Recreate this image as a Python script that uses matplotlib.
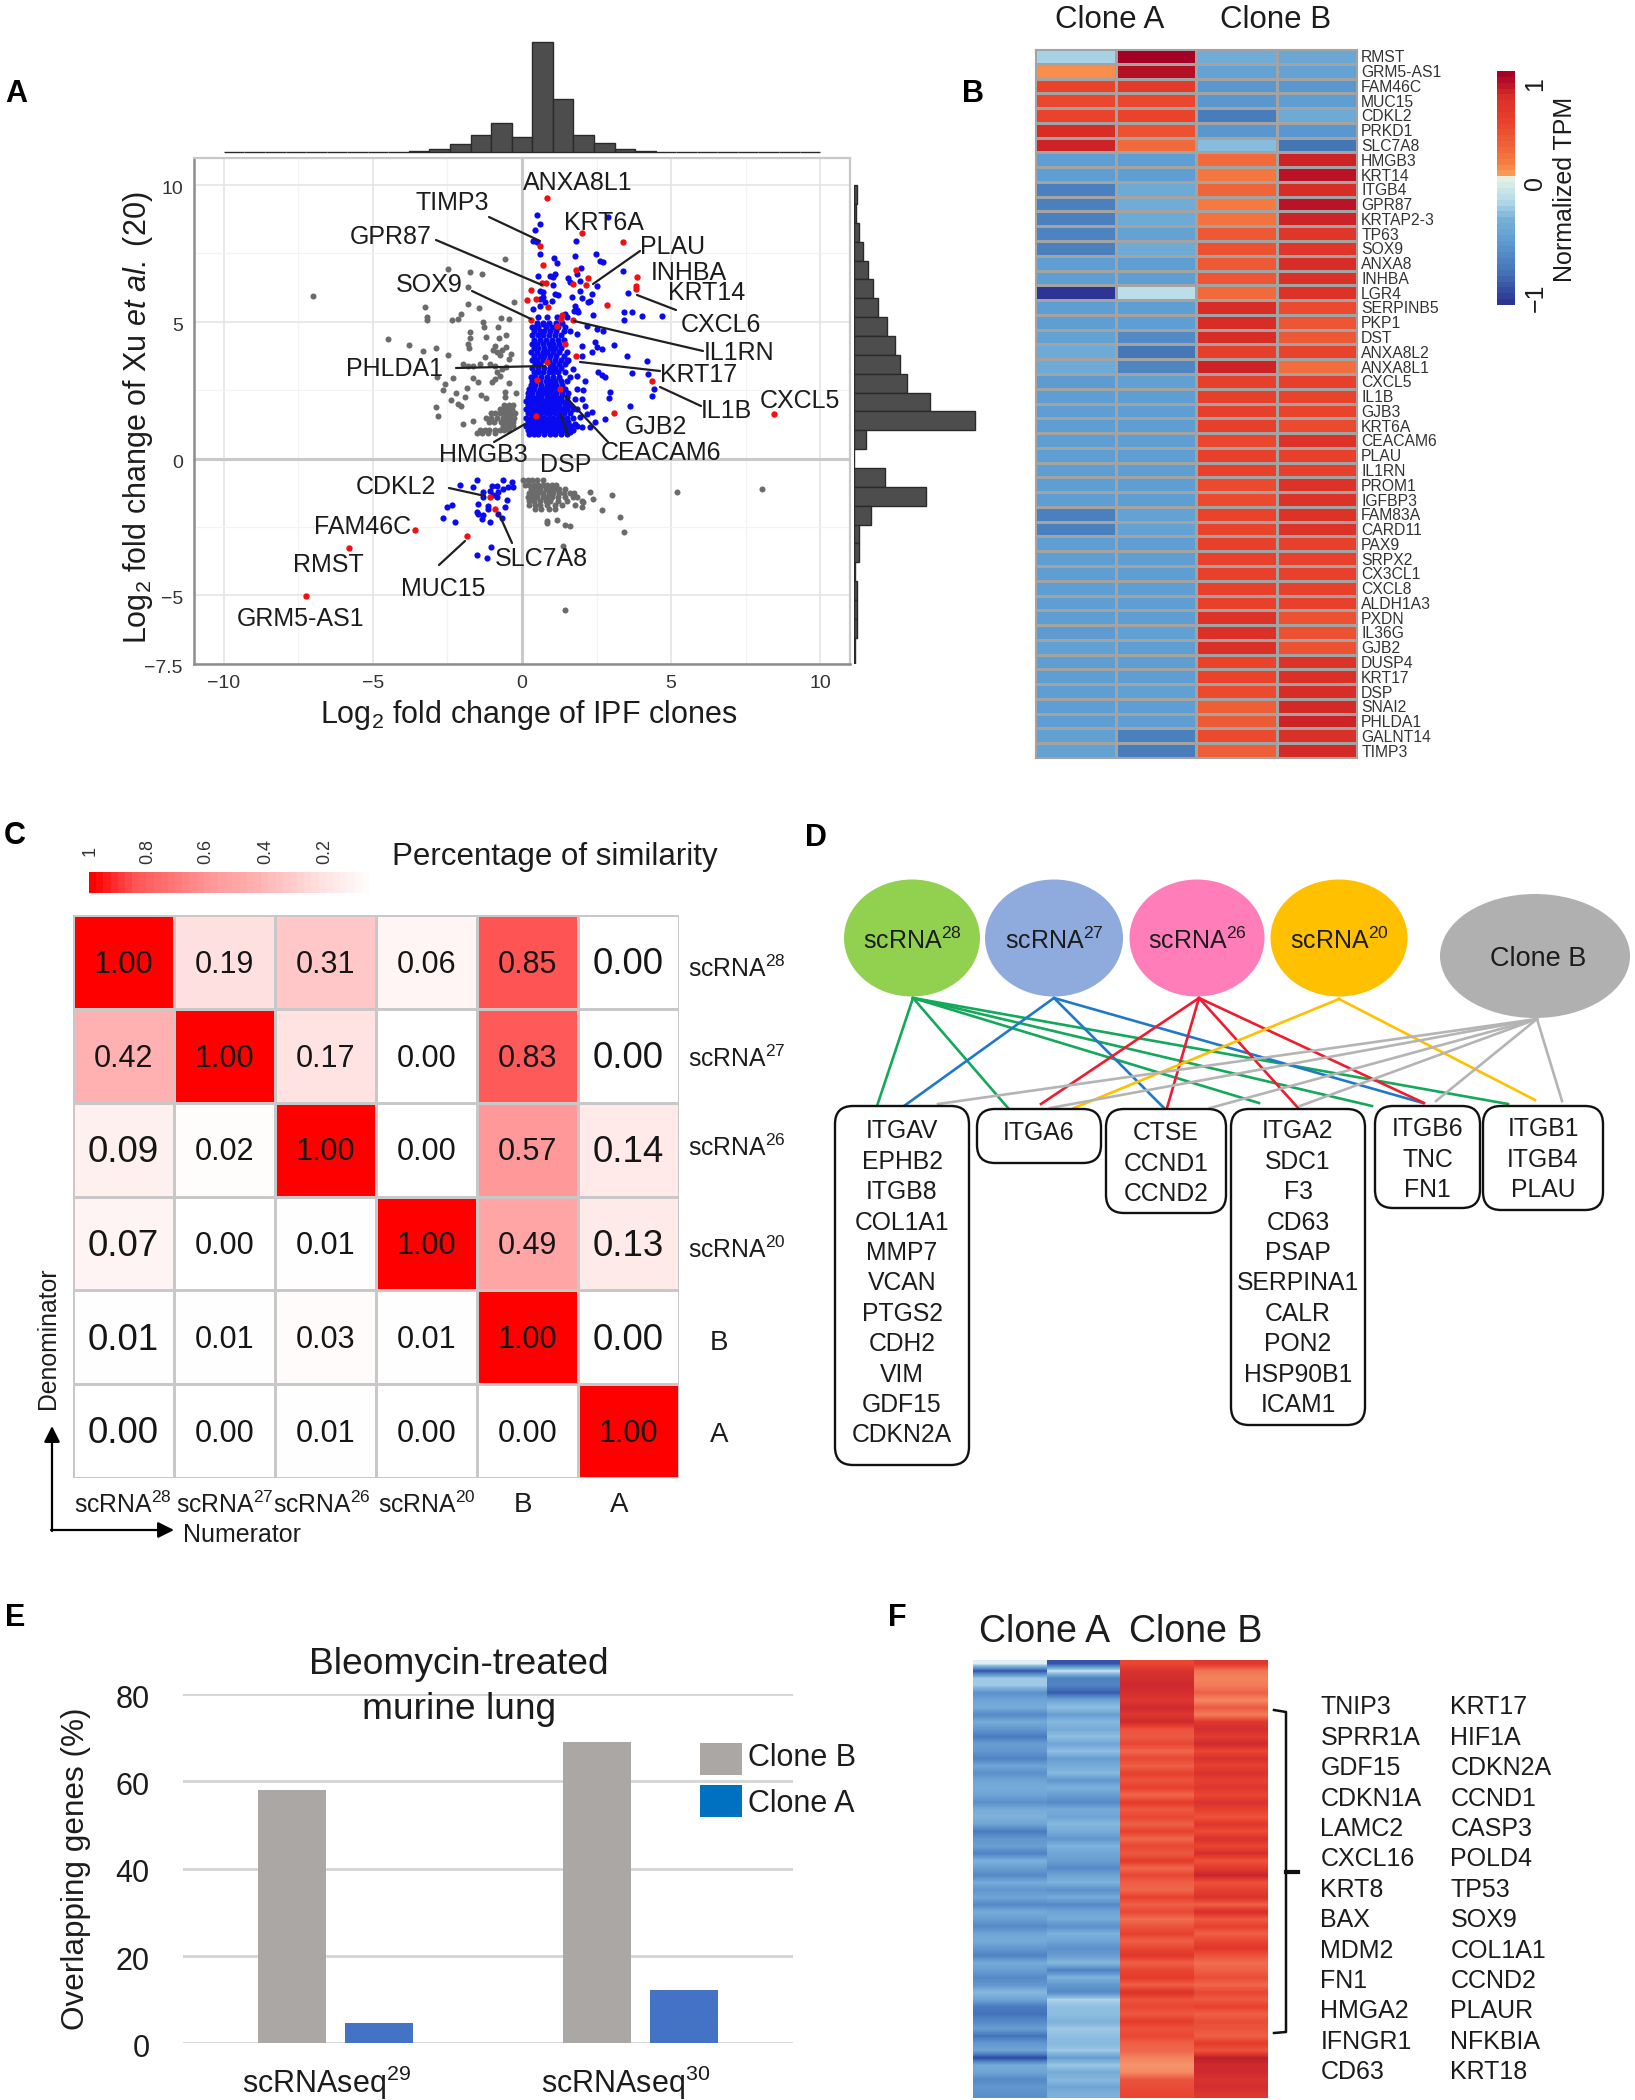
import numpy as np
import matplotlib
matplotlib.use("Agg")
import matplotlib.pyplot as plt
from matplotlib.colors import LinearSegmentedColormap
from matplotlib.patches import Ellipse, FancyBboxPatch, Rectangle
from matplotlib.transforms import ScaledTranslation

plt.rcParams['font.family'] = ['Liberation Sans', 'DejaVu Sans']
plt.rcParams['mathtext.fontset'] = 'custom'
plt.rcParams['mathtext.rm'] = 'Liberation Sans'
plt.rcParams['mathtext.it'] = 'Liberation Sans:italic'
plt.rcParams['mathtext.bf'] = 'Liberation Sans:bold'
plt.rcParams['mathtext.default'] = 'regular'

W, H = 1635, 2100
INK = '#1c1c1c'

# ---- panel A data
top_hist = [1, 1, 1, 1, 1, 1, 1, 1, 1, 3, 6, 17, 37, 63, 33, 239, 115, 38, 20, 7, 3, 1, 1, 1, 1, 1, 1, 1, 1]
right_hist = [9, 5, 16, 27, 43, 57, 71, 99, 122, 137, 158, 228, 363, 36, 0, 93, 215, 50, 15, 15, 3, 8, 8, 8, 3, 3]

red_pts = [(0.85, 9.53), (2.0, 8.25), (3.38, 7.92), (0.6, 7.78), (0.7, 7.07), (1.81, 6.91), (3.85, 6.62), (3.83, 6.3),
           (3.83, 6.2), (0.16, 5.81), (0.3, 6.17), (0.8, 6.41), (0.66, 6.41), (1.72, 6.38), (2.23, 6.6), (2.14, 6.36),
           (2.84, 5.6), (0.3, 5.08), (0.47, 5.84), (0.88, 5.53), (1.72, 5.07), (1.35, 5.26), (1.3, 5.1), (1.16, 4.84),
           (1.44, 4.19), (1.81, 3.74), (0.83, 3.52), (0.51, 2.87), (4.35, 2.83), (1.27, 2.55), (3.07, 1.67), (0.47, 1.54),
           (8.45, 1.63), (-1.07, -1.41), (-0.91, -1.85), (-1.86, -2.84), (-3.59, -2.61), (-5.8, -3.28), (-7.26, -5.04)]

blue_sparse = [(0.49, 8.92), (0.62, 8.58), (0.43, 8.36), (2.9, 8.82), (1.81, 7.94), (0.38, 7.94), (0.49, 7.9), (0.6, 7.48),
               (1.78, 7.42), (2.47, 7.48), (2.62, 7.24), (2.73, 7.18), (1.08, 7.33), (1.16, 7.14), (0.55, 6.69), (0.94, 6.69),
               (1.11, 6.75), (1.05, 6.63), (1.97, 6.96), (1.83, 6.75), (1.53, 6.59), (1.95, 6.5), (3.38, 6.87), (2.51, 6.3),
               (1.61, 6.44), (1.05, 6.35), (0.6, 6.14), (0.72, 6.08), (1.95, 6.14), (3.54, 6.04), (1.11, 6.02), (1.22, 5.99),
               (1.69, 5.92), (2.0, 5.87), (2.34, 6.02), (2.28, 5.77), (2.23, 5.71), (0.6, 5.84), (0.72, 5.9), (0.77, 5.71),
               (0.99, 5.77), (0.6, 5.59), (0.38, 5.47), (1.78, 5.56), (1.83, 5.43), (1.75, 5.41), (1.89, 5.35), (3.42, 5.35),
               (3.7, 5.35), (4.03, 5.2), (4.69, 5.23), (3.42, 5.07), (2.37, 5.25), (0.55, 5.17), (0.83, 5.17), (1.16, 5.17),
               (1.44, 5.29), (1.5, 5.17), (0.72, 4.92), (0.44, 4.8),
               (2.0, 4.13), (2.45, 4.25), (2.51, 4.07), (2.67, 4.0), (2.34, 3.89), (3.07, 4.15), (3.51, 3.76), (4.18, 3.55),
               (4.24, 3.09), (3.68, 3.12), (4.43, 2.55), (4.37, 2.3), (3.62, 1.91), (2.95, 2.45), (2.93, 2.2), (2.79, 1.45),
               (2.56, 3.16), (2.67, 3.07), (2.79, 2.97), (2.11, 2.85), (1.83, 3.03), (1.7, 3.28), (2.06, 2.49), (2.0, 2.18),
               (2.11, 1.94), (2.34, 1.69), (2.17, 1.63), (2.45, 1.33), (2.28, 1.14), (1.83, 2.55), (1.78, 2.18), (1.83, 1.81),
               (1.95, 1.51), (1.78, 1.27), (2.0, 1.14), (1.61, 0.96), (1.5, 3.58), (2.0, 3.76), (2.73, 4.68), (2.51, 4.74),
               (2.17, 4.86), (1.83, 4.56),
               (-2.08, -0.96), (-1.5, -0.78), (-1.66, -1.05), (-1.3, -1.23), (-1.02, -0.99), (-0.85, -0.99), (-1.07, -1.17),
               (-0.63, -0.8), (-0.35, -0.87), (-0.46, -1.05), (-0.79, -1.23), (-0.96, -1.35), (-0.63, -1.11), (-0.29, -1.05),
               (-1.3, -1.41), (-0.85, -1.41), (-1.46, -1.66), (-1.13, -1.72), (-0.51, -1.51), (-0.57, -1.78), (-0.79, -2.02),
               (-0.68, -2.17), (-1.13, -1.84), (-1.07, -2.33), (-2.36, -1.69), (-2.5, -1.78), (-2.64, -2.17), (-2.25, -2.33),
               (-1.46, -2.02), (-1.35, -2.2), (-1.52, -1.96), (-1.3, -2.08), (-1.05, -3.22), (-1.52, -3.52), (-1.18, -3.63)]

# dense column above zero, one row per y level
blue_rows = [(0.9, [.25, .4, .55, .75, .95, 1.1, 1.3, 1.5]),
             (1.05, [.2, .35, .5, .65, .8, .95, 1.1, 1.25, 1.4, 1.55, 1.7]),
             (1.2, [.15, .3, .45, .6, .75, .9, 1.05, 1.2, 1.35, 1.5, 1.65, 1.85]),
             (1.35, [.2, .35, .5, .65, .8, .95, 1.1, 1.25, 1.4, 1.55]),
             (1.5, [.15, .3, .45, .6, .75, .9, 1.05, 1.2, 1.35, 1.5, 1.7]),
             (1.65, [.2, .35, .5, .65, .8, .95, 1.1, 1.25, 1.4, 1.6]),
             (1.8, [.15, .3, .45, .6, .75, .9, 1.05, 1.2, 1.35, 1.5, 1.7]),
             (1.95, [.2, .35, .5, .65, .8, .95, 1.1, 1.25, 1.45, 1.6]),
             (2.1, [.15, .3, .45, .6, .75, .9, 1.05, 1.2, 1.35, 1.5]),
             (2.25, [.2, .35, .5, .65, .85, 1.0, 1.15, 1.3, 1.5]),
             (2.4, [.2, .35, .55, .7, .85, 1.0, 1.15, 1.35, 1.55]),
             (2.55, [.25, .4, .6, .75, .9, 1.05, 1.2, 1.45]),
             (2.7, [.3, .45, .65, .85, 1.0, 1.15, 1.35]),
             (2.85, [.35, .6, .8, .95, 1.1, 1.3, 1.5]),
             (3.0, [.3, .45, .65, .85, 1.05, 1.25, 1.6]),
             (3.15, [.4, .55, .7, .9, 1.05, 1.2, 1.45]),
             (3.3, [.35, .55, .75, .95, 1.1, 1.3]),
             (3.45, [.45, .6, .95, 1.05, 1.25, 1.45]),
             (3.6, [.35, .5, .7, .9, 1.1, 1.3, 1.55]),
             (3.75, [.4, .6, .75, .95, 1.15, 1.4]),
             (3.9, [.3, .5, .7, .85, 1.05, 1.25, 1.5]),
             (4.05, [.4, .55, .75, .95, 1.1, 1.3]),
             (4.2, [.35, .5, .7, .9, 1.05, 1.25]),
             (4.35, [.4, .6, .8, 1.0, 1.2, 1.4]),
             (4.5, [.35, .55, .7, .9, 1.1, 1.3]),
             (4.65, [.4, .6, .75, .95, 1.15, 1.4, 1.6]),
             (4.8, [.35, .55, .8, 1.0, 1.2, 1.45]),
             (4.95, [.5, .7, .9, 1.15, 1.35])]

gray_sparse = [(-7.0, 5.96), (-2.47, 6.93), (-1.75, 6.81), (-1.35, 6.75), (-0.57, 7.3), (-1.8, 6.26), (-1.8, 5.65), (-1.43, 5.49),
               (-3.26, 5.53), (-3.2, 5.17), (-3.2, 5.08), (-2.03, 5.29), (-2.14, 5.1), (-2.34, 5.07), (-1.3, 4.98), (-1.27, 4.82),
               (-0.8, 4.82), (-0.72, 5.14), (-0.44, 5.1), (-0.26, 5.71), (-1.75, 4.62), (-1.75, 4.41), (-1.22, 4.43), (-0.77, 4.41),
               (-0.52, 4.53), (-1.8, 4.19), (-1.77, 4.03), (-0.91, 4.13), (-0.96, 3.98), (-0.68, 3.98), (-0.52, 4.07), (-0.38, 3.82),
               (-0.43, 3.64), (-0.85, 3.89), (-0.74, 3.77), (-4.51, 4.37), (-3.8, 4.15), (-3.33, 3.95), (-2.89, 4.04), (-2.47, 3.8),
               (-1.24, 3.7), (-1.97, 3.46), (-1.8, 3.4), (-1.63, 3.4), (-1.41, 3.46), (-1.07, 3.46), (-0.91, 3.4), (-0.68, 3.27),
               (-0.52, 3.34), (-0.85, 3.15), (-0.74, 3.03), (-0.91, 2.91), (-1.02, 2.79), (-2.84, 2.97), (-2.3, 2.95), (-2.58, 2.73),
               (-2.66, 2.52), (-1.63, 2.95), (-1.47, 2.79), (-1.86, 2.58), (-1.39, 2.34), (-1.21, 2.2), (-0.43, 2.76), (-0.57, 2.42),
               (-0.57, 2.24), (-0.21, 2.39), (-2.22, 2.39), (-2.39, 2.14), (-1.91, 2.24), (-2.14, 2.0), (-2.03, 1.94), (-2.9, 1.88),
               (-2.81, 1.55), (-1.97, 1.27), (-1.63, 1.39),
               (2.28, -1.23), (2.39, -1.47), (2.06, -1.6), (1.78, -1.68), (2.0, -1.78), (3.01, -1.35), (2.67, -1.88), (3.29, -2.12),
               (3.43, -2.69), (0.85, -2.27), (1.19, -2.24), (1.44, -2.42), (1.61, -2.46), (0.85, -2.36), (1.39, -3.18), (1.44, -5.54),
               (5.2, -1.24), (8.05, -1.1)]

gray_rows = [(1.95, [-.6, -.45, -.3]),
             (1.8, [-.75, -.6, -.48, -.35]),
             (1.65, [-1.05, -.9, -.75, -.6, -.47, -.32, -.22]),
             (1.5, [-1.2, -1.05, -.85, -.65, -.55, -.4, -.28]),
             (1.35, [-1.1, -.95, -.7, -.6, -.45, -.3]),
             (1.2, [-.65, -.55, -.42, -.3]),
             (1.05, [-1.4, -1.25, -1.1, -.9, -.75, -.6, -.45]),
             (0.95, [-1.5, -1.35, -1.15, -.9]),
             (-0.8, [.05, .2, .35, .5, .7]),
             (-0.95, [.1, .25, .4, .55, .7, .85, 1.0, 1.15]),
             (-1.1, [.3, .45, .6, .8, .95, 1.1, 1.25, 1.45]),
             (-1.25, [.25, .4, .55, .7, .9, 1.05, 1.25, 1.4, 1.6, 1.75]),
             (-1.4, [.2, .35, .5, .7, .85, 1.0, 1.2, 1.45, 1.7, 1.85]),
             (-1.55, [.25, .4, .6, .8, .95, 1.2, 1.5, 2.0]),
             (-1.7, [.25, .45, .6, .85, 1.1, 1.35]),
             (-1.85, [.45, .65, .9, 1.1])]

gene_labels = [('ANXA8L1', 578, 181), ('TIMP3', 452, 200), ('KRT6A', 604, 220), ('GPR87', 391, 235), ('PLAU', 673, 245),
               ('INHBA', 689, 271), ('KRT14', 707, 291), ('SOX9', 429, 283), ('CXCL6', 721, 323), ('IL1RN', 739, 351),
               ('PHLDA1', 395, 366), ('KRT17', 699, 372), ('IL1B', 726, 408), ('CXCL5', 800, 399), ('GJB2', 656, 425),
               ('CEACAM6', 661, 450), ('HMGB3', 483, 453), ('DSP', 566, 462), ('CDKL2', 396, 484), ('FAM46C', 363, 524),
               ('RMST', 328, 563), ('SLC7A8', 541, 556), ('MUC15', 443, 587), ('GRM5-AS1', 301, 616)]
leaders = [(489, 217, 540, 241), (436, 240, 542, 285), (640, 251, 593, 284), (637, 295, 676, 310), (472, 291, 531, 319),
           (574, 321, 703, 351), (456, 368, 545, 366), (580, 362, 660, 371), (660, 387, 701, 406), (565, 396, 608, 442),
           (525, 424, 494, 442), (561, 415, 568, 435), (449, 488, 485, 496), (499, 514, 512, 543), (465, 541, 439, 565)]

# ---- panel B data
heat_genes = ['RMST', 'GRM5-AS1', 'FAM46C', 'MUC15', 'CDKL2', 'PRKD1', 'SLC7A8', 'HMGB3', 'KRT14', 'ITGB4', 'GPR87', 'KRTAP2-3',
              'TP63', 'SOX9', 'ANXA8', 'INHBA', 'LGR4', 'SERPINB5', 'PKP1', 'DST', 'ANXA8L2', 'ANXA8L1', 'CXCL5', 'IL1B', 'GJB3',
              'KRT6A', 'CEACAM6', 'PLAU', 'IL1RN', 'PROM1', 'IGFBP3', 'FAM83A', 'CARD11', 'PAX9', 'SRPX2', 'CX3CL1', 'CXCL8',
              'ALDH1A3', 'PXDN', 'IL36G', 'GJB2', 'DUSP4', 'KRT17', 'DSP', 'SNAI2', 'PHLDA1', 'GALNT14', 'TIMP3']
heat_a1 = [-.15, .2, .65, .62, .65, .9, .95, -.5, -.5, -.72, -.72, -.72, -.7, -.72, -.5, -.5, -1.1, -.5, -.5, -.45, -.38, -.38, -.52, -.5,
           -.5, -.5, -.5, -.5, -.5, -.5, -.5, -.72, -.72, -.5, -.5, -.5, -.5, -.5, -.5, -.52, -.48, -.5, -.5, -.5, -.5, -.5, -.48, -.45]
heat_a2 = [1.12, 1.05, .75, .62, .65, .55, .38, -.5, -.5, -.38, -.35, -.38, -.45, -.38, -.5, -.5, -.08, -.5, -.5, -.65, -.78, -.68, -.48, -.5,
           -.5, -.5, -.5, -.5, -.5, -.5, -.5, -.45, -.45, -.5, -.5, -.5, -.5, -.5, -.5, -.48, -.5, -.5, -.5, -.48, -.5, -.5, -.72, -.75]
heat_b1 = [-.35, -.45, -.55, -.55, -.75, -.55, -.25, .38, .3, .42, .28, .33, .5, .55, .5, .52, .38, .9, .9, .9, .7, .95, .7, .7,
           .7, .7, .62, .68, .68, .6, .6, .65, .65, .68, .68, .68, .68, .68, .85, .88, .88, .65, .65, .6, .45, .48, .6, .45]
heat_b2 = [-.4, -.45, -.55, -.5, -.38, -.55, -.8, .95, 1.03, .9, 1.03, .95, .8, .8, .9, .88, .85, .6, .52, .5, .65, .35, .7, .65,
           .65, .6, .85, .68, .7, .85, .85, .85, .85, .68, .68, .68, .68, .68, .55, .55, .55, .85, .88, .9, .92, .95, .88, .92]
heat_clim = (-1.1, 1.12)
heat_nodes = [(-1.1, '#2c3593'), (-0.8, '#4476b6'), (-0.5, '#5f9ed3'), (-0.3, '#78b1d8'), (-0.1, '#b6dcea'), (0.14, '#eef6e4'),
              (0.15, '#f99a55'), (0.25, '#f67f42'), (0.45, '#ee5f38'), (0.65, '#ea432c'), (0.9, '#d92e27'), (1.12, '#a50026')]
f_nodes = [(-1.1, '#2a3f9e'), (-0.8, '#4a7cc0'), (-0.5, '#6fa5d6'), (-0.3, '#8fbfe0'), (-0.05, '#dff0f5'), (0.0, '#f8b090'),
           (0.2, '#f58a62'), (0.5, '#ee6048'), (0.75, '#e8402e'), (1.0, '#cf2a30'), (1.12, '#b81d2c')]

# ---- panel C data
sim_names = ['scRNA$^{28}$', 'scRNA$^{27}$', 'scRNA$^{26}$', 'scRNA$^{20}$', 'B', 'A']
sim_vals = [[1.00, 0.19, 0.31, 0.06, 0.85, 0.00],
            [0.42, 1.00, 0.17, 0.00, 0.83, 0.00],
            [0.09, 0.02, 1.00, 0.00, 0.57, 0.14],
            [0.07, 0.00, 0.01, 1.00, 0.49, 0.13],
            [0.01, 0.01, 0.03, 0.01, 1.00, 0.00],
            [0.00, 0.00, 0.01, 0.00, 0.00, 1.00]]
sim_ticks = ['1', '0.8', '0.6', '0.4', '0.2']

# ---- panel D data
gene_boxes = [['ITGAV', 'EPHB2', 'ITGB8', 'COL1A1', 'MMP7', 'VCAN', 'PTGS2', 'CDH2', 'VIM', 'GDF15', 'CDKN2A'],
              ['ITGA6'],
              ['CTSE', 'CCND1', 'CCND2'],
              ['ITGA2', 'SDC1', 'F3', 'CD63', 'PSAP', 'SERPINA1', 'CALR', 'PON2', 'HSP90B1', 'ICAM1'],
              ['ITGB6', 'TNC', 'FN1'],
              ['ITGB1', 'ITGB4', 'PLAU']]
box_frames = [(835, 1106, 969, 1465), (977, 1109, 1101, 1163), (1106, 1109, 1226, 1213),
              (1231, 1109, 1365, 1425), (1375, 1106, 1480, 1208), (1483, 1106, 1603, 1210)]
box_first_y = [1129, 1130, 1131, 1129, 1127, 1127]
nodes = [('scRNA$^{28}$', 912, 938, 136, 117, '#92d050'), ('scRNA$^{27}$', 1054, 938, 138, 117, '#8faadc'),
         ('scRNA$^{26}$', 1197, 938, 135, 117, '#ff7db8'), ('scRNA$^{20}$', 1339, 938, 137, 117, '#ffc000'),
         ('Clone B', 1535, 956, 190, 124, '#b0b0b0')]
links = [('#13a85a', 913, 998, [(877, 1106), (1008, 1108), (1259, 1103), (1372, 1106), (1508, 1104)]),
         ('#1f78c8', 1054, 998, [(904, 1106), (1164, 1108), (1423, 1103)]),
         ('#ee1c2e', 1199, 998, [(1041, 1104), (1167, 1108), (1299, 1109), (1424, 1103)]),
         ('#ffc000', 1339, 999, [(1074, 1108), (1535, 1100)]),
         ('#b4b4b4', 1537, 1019, [(938, 1104), (1050, 1108), (1210, 1108), (1300, 1106), (1436, 1101), (1562, 1101)])]

# ---- panel E data
bar_groups = ['scRNAseq$^{29}$', 'scRNAseq$^{30}$']
clone_b_pct = [58, 69]
clone_a_pct = [4.6, 12.2]

# ---- panel F data
f_a1 = [-.05, -1.0, -.25, -.25, -.65, -.5, -.45, -.7, -.45, -.6, -.8, -.55, -.6, -.75, -.5, -.65, -.5, -.45, -.5, -.65,
        -.45, -.4, -.5, -.8, -.6, -.55, -.75, -.4, -.55, -.7, -.45, -.6, -.5, -.7, -.45, -.55, -.7, -.5, -.45, -.6,
        -.75, -.45, -.55, -.7, -.6, -.35, -.5, -.8, -.85, -.7, -.55, -.85, -.6, -.5, -1.05, -.45, -.5, -.7, -.6, -.65]
f_a2 = [-1.0, -.1, -.75, -.75, -.95, -.5, -.3, -.55, -.35, -.45, -.3, -.5, -.3, -.55, -.45, -.35, -.6, -.4, -.55, -.7,
        -.45, -.5, -.35, -.45, -.6, -.4, -.5, -.55, -.7, -.5, -.4, -.65, -.45, -.7, -.5, -.45, -.65, -.4, -.5, -.65,
        -.55, -.35, -.75, -.4, -.6, -.7, -.2, -.3, -.3, -.4, -.25, -.3, -.35, -.25, -.55, -.25, -.45, -.35, -.5, -.4]
f_b1 = [.7, .9, .95, 1.0, .95, .85, 1.0, .85, 1.0, .6, .55, .7, .45, .7, .5, .75, .6, .75, .45, .8,
        .55, .7, .5, .75, .45, .7, .55, .8, .45, .7, .5, .45, .75, .5, .7, .4, .6, .75, .5, .7,
        .85, .5, .7, .8, .5, .9, .6, .7, .55, .8, .6, .7, .5, .45, .25, .15, .2, .6, .65, .7]
f_b2 = [.85, .35, .25, .3, .5, .2, .55, .3, .85, .95, .8, 1.0, .7, .9, .75, .9, .75, .85, .7, .9,
        .75, .6, .85, .65, .9, .7, .95, .6, .8, 1.05, .6, .75, .9, .5, .95, .55, .75, .5, .7, .85,
        .6, .4, .5, .65, .45, .7, .55, .75, .5, .65, .6, .5, .8, .6, 1.1, 1.0, 1.0, .9, .95, .85]
f_genes_left = ['TNIP3', 'SPRR1A', 'GDF15', 'CDKN1A', 'LAMC2', 'CXCL16', 'KRT8', 'BAX', 'MDM2', 'FN1', 'HMGA2', 'IFNGR1', 'CD63']
f_genes_right = ['KRT17', 'HIF1A', 'CDKN2A', 'CCND1', 'CASP3', 'POLD4', 'TP53', 'SOX9', 'COL1A1', 'CCND2', 'PLAUR', 'NFKBIA', 'KRT18']


def px_axes(left, top, right, bottom):
    # axes box given in image pixels, y measured from the top
    return fig.add_axes([left / W, 1 - bottom / H, (right - left) / W, (bottom - top) / H])


def expand_rows(rows):
    return [(x, y) for y, xs in rows for x in xs]


def put(x, y, s, **kw):
    # caps sit a little under the box centre in the reference
    kw.setdefault('ha', 'center')
    kw.setdefault('va', 'center')
    kw.setdefault('color', INK)
    return ov.text(x, y + 2.5, s, **kw)


def nudge_ylabels(ax, px):
    for lab in ax.get_yticklabels():
        lab.set_transform(lab.get_transform() + ScaledTranslation(0, -px / 100, fig.dpi_scale_trans))


fig = plt.figure(figsize=(W / 100, H / 100), dpi=100, facecolor='white')

# pixel overlay for labels and diagram parts
ov = fig.add_axes([0, 0, 1, 1], zorder=10)
ov.set_xlim(0, W)
ov.set_ylim(H, 0)
ov.axis('off')
ov.patch.set_alpha(0)

for letter, lx, ly in [('A', 16, 91), ('B', 973, 91), ('C', 15, 834), ('D', 816, 835), ('E', 15, 1616), ('F', 897, 1616)]:
    put(lx, ly, letter, fontsize=22, fontweight='bold', color='black')

# ---------- A
ax_a = px_axes(194, 157.7, 850, 663.7)
ax_a.set_xlim(-11, 11)
ax_a.set_ylim(-7.5, 11)
ax_a.set_axisbelow(True)
ax_a.set_xticks([-10, -5, 0, 5, 10])
ax_a.set_xticklabels(['\u221210', '\u22125', '0', '5', '10'])
ax_a.set_yticks([-7.5, -5, 0, 5, 10])
ax_a.set_yticklabels(['\u22127.5', '\u22125', '0', '5', '10'])
ax_a.set_xticks([-7.5, -2.5, 2.5, 7.5], minor=True)
ax_a.set_yticks([-2.5, 2.5, 7.5], minor=True)
ax_a.grid(True, which='major', color='#e6e6e6', lw=1.3)
ax_a.grid(True, which='minor', color='#f2f2f2', lw=0.9)
ax_a.axhline(0, color='#c9c9c9', lw=2.2, zorder=1)
ax_a.axvline(0, color='#c9c9c9', lw=2.2, zorder=1)
ax_a.tick_params(which='both', length=0)
ax_a.tick_params(which='major', labelsize=14, labelcolor='#333333', pad=8)
nudge_ylabels(ax_a, 2.5)
for side in ['top', 'right']:
    ax_a.spines[side].set_color('#c8c8c8')
    ax_a.spines[side].set_linewidth(1.6)
for side in ['left', 'bottom']:
    ax_a.spines[side].set_color('#8c8c8c')
    ax_a.spines[side].set_linewidth(1.8)

gray_all = np.array(gray_sparse + expand_rows(gray_rows))
blue_all = np.array(blue_sparse + expand_rows(blue_rows))
red_all = np.array(red_pts)
ax_a.scatter(gray_all[:, 0], gray_all[:, 1], s=19, color='#6b6b6b', lw=0, zorder=3)
ax_a.scatter(blue_all[:, 0], blue_all[:, 1], s=20, color='#0a0af0', lw=0, zorder=4)
ax_a.scatter(red_all[:, 0], red_all[:, 1], s=21, color='#f01010', lw=0, zorder=5)

for x0, y0, x1, y1 in leaders:
    ov.plot([x0, x1], [y0, y1], color='#202020', lw=1.6, solid_capstyle='round')
for name, tx, ty in gene_labels:
    put(tx, ty, name, fontsize=18)
put(529, 713, 'Log$_2$ fold change of IPF clones', fontsize=22)
put(138, 415, r'Log$_2$ fold change of Xu $\mathit{et\ al.\ (20)}$', fontsize=22, rotation=90)

bin_w = 20 / 29
ax_top = px_axes(194, 42, 850, 152)
ax_top.bar(-10 + bin_w * (np.arange(29) + 0.5), top_hist, width=bin_w, color='#4d4d4d', edgecolor='#2a2a2a', lw=1, clip_on=False)
ax_top.set_xlim(-11, 11)
ax_top.set_ylim(0, 240)
ax_top.axis('off')

ax_right = px_axes(854, 157.7, 990, 663.7)
ax_right.barh(10 - bin_w * (np.arange(26) + 0.5), right_hist, height=bin_w, color='#4d4d4d', edgecolor='#2a2a2a', lw=1)
ax_right.set_xlim(0, 408)
ax_right.set_ylim(-7.5, 11)
ax_right.axis('off')

# ---------- B
span = heat_clim[1] - heat_clim[0]
heat_cmap = LinearSegmentedColormap.from_list('heat', [((v - heat_clim[0]) / span, c) for v, c in heat_nodes], N=512)
f_cmap = LinearSegmentedColormap.from_list('heat_f', [((v - heat_clim[0]) / span, c) for v, c in f_nodes], N=512)
ax_b = px_axes(1035, 49, 1357, 758)
ax_b.pcolormesh(np.array([heat_a1, heat_a2, heat_b1, heat_b2]).T, cmap=heat_cmap, vmin=heat_clim[0], vmax=heat_clim[1],
                edgecolors='#a3a3a3', linewidth=0.8)
ax_b.set_ylim(len(heat_genes), 0)
ax_b.set_xticks([])
ax_b.yaxis.tick_right()
ax_b.set_yticks(np.arange(len(heat_genes)) + 0.5)
ax_b.set_yticklabels(heat_genes, fontsize=11.3, color='#333333')
ax_b.tick_params(axis='y', length=0, pad=3)
for sp in ax_b.spines.values():
    sp.set_color('#a3a3a3')

put(1110, 17, 'Clone A', fontsize=22.5)
put(1276, 17, 'Clone B', fontsize=22.5)

ax_cb = px_axes(1497, 71, 1515, 305)
# stepped legend strip, same scale as the heatmap
ax_cb.imshow(np.linspace(heat_clim[1], heat_clim[0], 40)[:, None], aspect='auto', cmap=heat_cmap, vmin=heat_clim[0], vmax=heat_clim[1],
             extent=(0, 1, heat_clim[0], heat_clim[1]), interpolation='nearest')
ax_cb.set_xticks([])
ax_cb.yaxis.tick_right()
ax_cb.set_yticks([-1.03, 0.057, 1.0])
ax_cb.set_yticklabels(['\u22121', '0', '1'], rotation=90, va='center', fontsize=18, color=INK)
ax_cb.tick_params(axis='y', length=0, pad=6)
for sp in ax_cb.spines.values():
    sp.set_visible(False)
put(1565, 187, 'Normalized TPM', fontsize=18, rotation=90)

# ---------- C
sim_cmap = LinearSegmentedColormap.from_list('sim', [(0, '#ffffff'), (0.19, '#ffe0e0'), (0.42, '#ffb0b0'), (0.57, '#ff9999'), (0.85, '#ff5555'), (1, '#ff0000')])
ax_c = px_axes(73, 915, 679, 1478)
ax_c.pcolormesh(np.array(sim_vals), cmap=sim_cmap, vmin=0, vmax=1, edgecolors='#c8c8c8', linewidth=2)
ax_c.set_ylim(6, 0)
ax_c.axis('off')
for r, row in enumerate(sim_vals):
    for c, v in enumerate(row):
        big = (c == 5 and v < 1) or (c == 0 and r >= 2)
        ax_c.text(c + 0.5, r + 0.53, '%.2f' % v, fontsize=26.5 if big else 22, ha='center', va='center', color='#151515')

ax_cs = px_axes(88.5, 872, 375, 893)
ax_cs.imshow(np.linspace(1, 0, 40)[None, :], aspect='auto', cmap=sim_cmap, vmin=0, vmax=1, interpolation='nearest')
ax_cs.axis('off')
for lab, tx in zip(sim_ticks, [90, 148, 206, 266, 325]):
    put(tx, 849, lab, fontsize=13, rotation=90, color='#333333')
put(391.5, 855, 'Percentage of similarity', fontsize=22.5, ha='left')

for name, cy in zip(sim_names[:4], [966, 1056, 1145, 1247]):
    put(688, cy, name, fontsize=17.8, ha='left')
put(719, 1341, 'B', fontsize=20)
put(719, 1432, 'A', fontsize=20)
for name, cx in zip(sim_names, [122.6, 224.6, 322, 426.6, 523, 619]):
    put(cx, 1502.5, name, fontsize=17.8 if len(name) > 1 else 20)

ov.annotate('', xy=(52, 1426), xytext=(52, 1531), arrowprops=dict(arrowstyle='-|>', color='black', lw=1.6, mutation_scale=24, shrinkA=0, shrinkB=0))
ov.annotate('', xy=(174, 1530), xytext=(51, 1530), arrowprops=dict(arrowstyle='-|>', color='black', lw=1.6, mutation_scale=24, shrinkA=0, shrinkB=0))
put(48, 1336, 'Denominator', fontsize=17.8, rotation=90)
put(183, 1532, 'Numerator', fontsize=18, ha='left')

# ---------- D
for color, x0, y0, ends in links:
    for x1, y1 in ends:
        ov.plot([x0, x1], [y0, y1], color=color, lw=1.9, zorder=2)
for name, cx, cy, w_, h_, color in nodes:
    ov.add_patch(Ellipse((cx, cy), w_, h_, facecolor=color, edgecolor='none', zorder=3))
    put(cx + 3 if 'Clone' in name else cx, cy, name, fontsize=19.5 if 'Clone' in name else 18, zorder=4)
for genes, frame, first in zip(gene_boxes, box_frames, box_first_y):
    x0, y0, x1, y1 = frame
    ov.add_patch(FancyBboxPatch((x0, y0), x1 - x0, y1 - y0, boxstyle='round,pad=0,rounding_size=18', facecolor='white',
                                edgecolor='#111111', lw=1.7, zorder=3))
    for i, g in enumerate(genes):
        put((x0 + x1) / 2, first + i * 30.4, g, fontsize=17.8, zorder=4)

# ---------- E
ax_e = px_axes(183, 1694, 793, 2043)
xpos = np.arange(len(bar_groups)) + 0.5
ax_e.bar(xpos - 0.143, clone_b_pct, width=0.223, color='#aba7a5', zorder=3)
ax_e.bar(xpos + 0.143, clone_a_pct, width=0.223, color='#4472c4', zorder=3)
ax_e.set_xlim(0, 2)
ax_e.set_ylim(0, 80)
ax_e.set_yticks([0, 20, 40, 60, 80])
ax_e.set_xticks(xpos - np.array([0.03, 0.05]))
ax_e.set_xticklabels(bar_groups, fontsize=22, color=INK)
ax_e.grid(True, axis='y', color='#d4d4d4', lw=2)
ax_e.set_axisbelow(True)
ax_e.tick_params(axis='y', length=0, labelsize=22, labelcolor=INK, pad=24)
ax_e.tick_params(axis='x', length=0, pad=15)
nudge_ylabels(ax_e, 2.5)
for sp in ax_e.spines.values():
    sp.set_visible(False)
put(76, 1866, 'Overlapping genes (%)', fontsize=22.7, rotation=90)
put(459, 1662, 'Bleomycin-treated', fontsize=26.7)
put(459, 1707, 'murine lung', fontsize=26.7)
ov.add_patch(Rectangle((700, 1743), 41.5, 32, facecolor='#aba7a5', edgecolor='none'))
ov.add_patch(Rectangle((700, 1785), 41.5, 32, facecolor='#0070c0', edgecolor='none'))
put(748, 1756, 'Clone B', fontsize=22, ha='left')
put(748, 1801, 'Clone A', fontsize=22, ha='left')

# ---------- F
# one image per column so the smoothing only runs along the rows
ax_f = px_axes(973, 1660, 1267, 2098)
for i, col in enumerate([f_a1, f_a2, f_b1, f_b2]):
    ax_f.imshow(np.array(col)[:, None], aspect='auto', cmap=f_cmap, vmin=heat_clim[0], vmax=heat_clim[1],
                extent=(i, i + 1, len(col), 0), interpolation='bilinear')
ax_f.set_xlim(0, 4)
ax_f.set_ylim(len(f_a1), 0)
ax_f.axis('off')
put(1045, 1630, 'Clone A', fontsize=27)
put(1196, 1630, 'Clone B', fontsize=27)
ov.plot([1274, 1286, 1286, 1274], [1710, 1712, 2032, 2033], color='#111111', lw=1.8)
ov.plot([1286, 1298], [1872, 1872], color='#111111', lw=3)
for i, (lg, rg) in enumerate(zip(f_genes_left, f_genes_right)):
    put(1320.5, 1705 + i * 30.4, lg, fontsize=18, ha='left')
    put(1450.5, 1705 + i * 30.4, rg, fontsize=18, ha='left')

fig.savefig('out.png', dpi=100)
